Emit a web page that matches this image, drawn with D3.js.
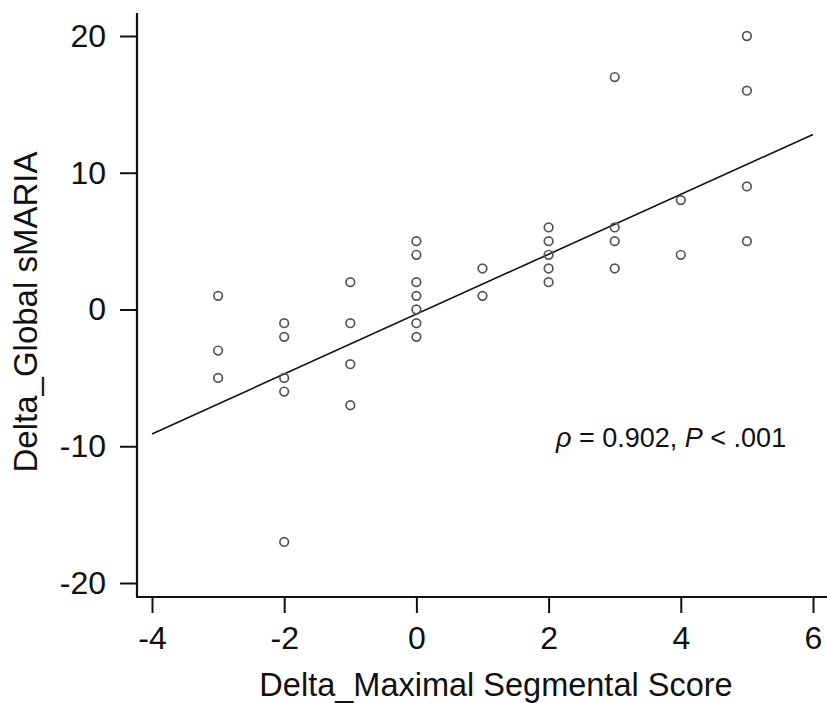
<!DOCTYPE html>
<html>
<head>
<meta charset="utf-8">
<script src="https://cdn.jsdelivr.net/npm/d3@7"></script>
<style>
  body { margin: 0; background: #fff; }
  svg text { font-family: 'Liberation Sans', Arial, sans-serif; fill: #111; }
</style>
</head>
<body>
<svg id="chart"></svg>
<script>
const W = 827
const H = 703

// points, grouped by delta maximal segmental score
const xVals = [-3, -3, -3,
	-2, -2, -2, -2, -2,
	-1, -1, -1, -1,
	0, 0, 0, 0, 0, 0, 0,
	1, 1,
	2, 2, 2, 2, 2,
	3, 3, 3, 3,
	4, 4,
	5, 5, 5, 5]
const yVals = [1, -3, -5,
	-1, -2, -5, -6, -17,
	2, -1, -4, -7,
	5, 4, 2, 1, 0, -1, -2,
	3, 1,
	6, 5, 4, 3, 2,
	17, 6, 5, 3,
	8, 4,
	20, 16, 9, 5]

// fitted line end points
const fitX = [-4, 6]
const fitY = [-9.1, 12.8]

const xTicks = [-4, -2, 0, 2, 4, 6]
const yTicks = [-20, -10, 0, 10, 20]

const x = d3.scaleLinear().domain([-4, 6]).range([152, 813])
const y = d3.scaleLinear().domain([-20, 20]).range([583, 36])

const svg = d3.select('#chart').attr('width', W).attr('height', H)

const axisX = 137
const axisY = 597
const fmt = d => String(d)

// y axis
const gy = svg.append('g')
	.attr('transform', `translate(${axisX},0)`)
	.call(d3.axisLeft(y).tickValues(yTicks).tickSize(17).tickPadding(14).tickFormat(fmt))
gy.select('.domain').remove()
gy.selectAll('.tick line').attr('stroke', '#111').attr('stroke-width', 2)
gy.selectAll('.tick text').style('font-size', '32px').attr('fill', '#111')
svg.append('line')
	.attr('x1', axisX).attr('x2', axisX)
	.attr('y1', 13).attr('y2', axisY + 1)
	.attr('stroke', '#111').attr('stroke-width', 2.2)

// x axis
const gx = svg.append('g')
	.attr('transform', `translate(0,${axisY})`)
	.call(d3.axisBottom(x).tickValues(xTicks).tickSize(16).tickPadding(13).tickFormat(fmt))
gx.select('.domain').remove()
gx.selectAll('.tick line').attr('stroke', '#111').attr('stroke-width', 2)
gx.selectAll('.tick text').style('font-size', '32px').attr('fill', '#111')
svg.append('line')
	.attr('x1', axisX - 1).attr('x2', W)
	.attr('y1', axisY).attr('y2', axisY)
	.attr('stroke', '#111').attr('stroke-width', 2.2)

// fit line
svg.append('line')
	.attr('x1', x(fitX[0])).attr('y1', y(fitY[0]))
	.attr('x2', x(fitX[1])).attr('y2', y(fitY[1]))
	.attr('stroke', '#111').attr('stroke-width', 1.6)

// points
svg.selectAll('.pt')
	.data(xVals.map((d, i) => ({ x: d, y: yVals[i] })))
	.enter()
	.append('circle')
	.attr('class', 'pt')
	.attr('cx', d => x(d.x))
	.attr('cy', d => y(d.y))
	.attr('r', 4.3)
	.attr('fill', 'none')
	.attr('stroke', '#555')
	.attr('stroke-width', 1.7)

// titles
svg.append('text')
	.attr('x', 496).attr('y', 696)
	.attr('text-anchor', 'middle')
	.style('font-size', '32.5px')
	.text('Delta_Maximal Segmental Score')

svg.append('text')
	.attr('transform', 'translate(37,312) rotate(-90)')
	.attr('text-anchor', 'middle')
	.style('font-size', '33px')
	.text('Delta_Global sMARIA')

// annotation
const note = svg.append('text')
	.attr('x', 556).attr('y', 447)
	.style('font-size', '27px')
note.append('tspan').style('font-style', 'italic').text('ρ')
note.append('tspan').text(' = 0.902, ')
note.append('tspan').style('font-style', 'italic').text('P')
note.append('tspan').text(' < .001')
</script>
</body>
</html>
